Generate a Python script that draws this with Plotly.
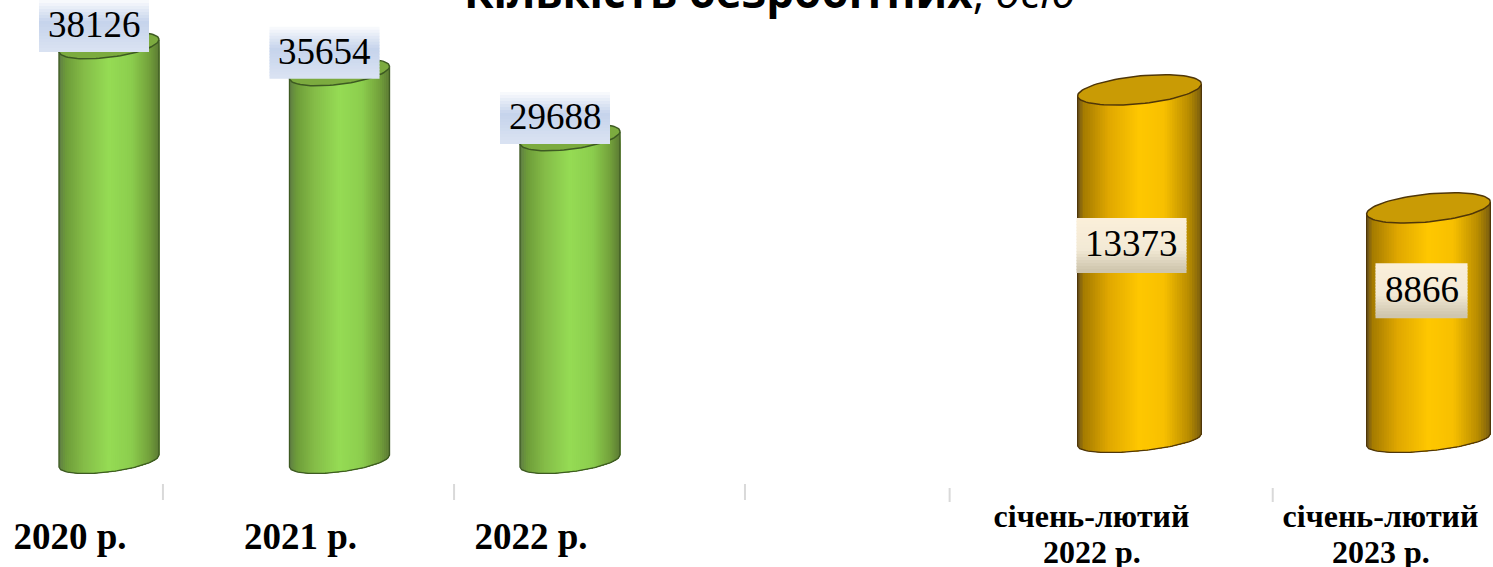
import numpy as np
import plotly.graph_objects as go

# values
years = ["2020 р.", "2021 р.", "2022 р."]
year_values = [38126, 35654, 29688]
period_names = ["січень-лютий", "січень-лютий"]
period_years = ["2022 р.", "2023 р."]
period_values = [13373, 8866]

W, H = 1493, 567
AXIS_PX = 484  # pixel row where the plot area ends

# colour stops across a cylinder, left edge (-1) to right edge (1)
green_stops = [(-1, "#5f7d45"), (-.85, "#6f9e3a"), (-.5, "#85bd48"), (0, "#96dc55"),
               (.45, "#8cce4e"), (.8, "#74a23c"), (1, "#5c7a34")]
orange_stops = [(-1, "#6b5320"), (-.9, "#a67c00"), (-.5, "#e0a800"), (0, "#ffc800"),
                (.4, "#f8c000"), (.8, "#b88c00"), (1, "#7a5e10")]
blue_band = [(0, "#fbfcfe"), (.45, "#c6d4ec"), (1, "#d9e2f2")]
cream_band = [(0, "#fcf0da"), (.6, "#f3ead6"), (1, "#cfc6ae")]


def hex_rgb(c):
    return np.array([int(c[i:i + 2], 16) for i in (1, 3, 5)], dtype=float)


def mix(stops, t):
    pos = [s[0] for s in stops]
    rgb = [np.interp(t, pos, [hex_rgb(s[1])[k] for s in stops]) for k in range(3)]
    return "rgb(%d,%d,%d)" % tuple(rgb)


fig = go.Figure()


def cylinder(xa, ya, x, value, half, px_per_unit, stops, edge, cap):
    tilt = 6 / px_per_unit
    b_top = 14 / px_per_unit if stops is orange_stops else 12 / px_per_unit
    b_bot = 11 / px_per_unit
    base = 0
    common = dict(xaxis=xa, yaxis=ya, mode="lines", hoverinfo="skip", showlegend=False)
    # nested polygons painted left to right give the shading without seams
    for u0 in np.linspace(-1, 0.97, 50):
        u = np.linspace(u0, 1, 40)
        xs = x + half * u
        top = value + tilt * u
        bottom = base + tilt * u - b_bot * np.sqrt(1 - u ** 2)
        fig.add_trace(go.Scatter(
            x=np.r_[xs, xs[::-1]], y=np.r_[top, bottom[::-1]],
            fill="toself", fillcolor=mix(stops, u0 + 0.02), line=dict(width=0), **common))
    # outline of sides and bottom
    u = np.linspace(-1, 1, 60)
    xs = x + half * u
    low = base + tilt * u - b_bot * np.sqrt(1 - u ** 2)
    fig.add_trace(go.Scatter(
        x=np.r_[x - half, xs, x + half], y=np.r_[value - tilt, low, value + tilt],
        line=dict(color=edge, width=1.3), **{k: v for k, v in common.items() if k != "mode"}))
    # top ellipse
    t = np.linspace(0, 2 * np.pi, 90)
    fig.add_trace(go.Scatter(
        x=x + half * np.cos(t), y=value + tilt * np.cos(t) + b_top * np.sin(t),
        fill="toself", fillcolor=cap, line=dict(color=edge, width=1.5), **common))


def value_label(xa, ya, x, y, text, dx, dy, w, h, band):
    # pixel-sized gradient box anchored on the data point
    step = 3
    for top in range(0, h, step):
        fig.add_shape(type="rect", xref=xa, yref=ya, xsizemode="pixel", ysizemode="pixel",
                      xanchor=x, yanchor=y, x0=dx - w / 2, x1=dx + w / 2,
                      y0=dy + h / 2 - top, y1=dy + h / 2 - top - step - 1,
                      fillcolor=mix(band, (top + step / 2) / h), line_width=0, layer="above")
    fig.add_annotation(xref=xa, yref=ya, x=x, y=y, xshift=dx, yshift=dy, text=text, showarrow=False,
                       font=dict(family="Liberation Serif", size=37, color="#000000"))


LEFT_SCALE = 0.0109
RIGHT_SCALE = 0.02618

for i, v in enumerate(year_values):
    cylinder("x", "y", i, v, 0.217, LEFT_SCALE, green_stops, "#3d5a22", "#7cab3f")
for i, v in enumerate(period_values):
    cylinder("x2", "y2", i, v, 0.214, RIGHT_SCALE, orange_stops, "#4f3608", "#c99b05")

for i, v in enumerate(year_values):
    value_label("x", "y", i, v, str(v), -15, 21, 110, 49, blue_band)
label_frac = [0.56, 0.65]  # height of the orange labels relative to the bar
for i, v in enumerate(period_values):
    value_label("x2", "y2", i, v * label_frac[i], str(v), -8 if i == 0 else -7, 0, 110 if i == 0 else 92, 52, cream_band)

# short separators under the axes
for xa, vals, top, bottom in [("x", [0.234, 1.497, 2.759], 484, 500), ("x2", [-0.657, 0.461], 488, 502)]:
    for t in vals:
        fig.add_shape(type="line", xref=xa, yref="paper", x0=t, x1=t,
                      y0=1 - top / H, y1=1 - bottom / H, line=dict(color="#d9d9d9", width=2))

# second line of the right-hand labels sits closer than a <br> would
for i, name in enumerate(period_years):
    fig.add_annotation(xref="x2", yref="paper", x=i - 0.166, y=1 - 552 / H, yanchor="middle",
                       text=name, showarrow=False,
                       font=dict(family="Liberation Serif", size=32, weight=700, color="#000000"))

fig.add_annotation(xref="paper", yref="paper", x=770 / W, y=1 - 10 / H, xanchor="center", yanchor="bottom",
                   yshift=-13, showarrow=False,
                   text="<b>Кількість безробітних</b>, <i>осіб</i>",
                   font=dict(family="Open Sans", size=44, color="#000000"))

SPLIT = 800 / W
fig.update_layout(
    width=W, height=H, margin=dict(l=0, r=0, t=0, b=0),
    paper_bgcolor="white", plot_bgcolor="white", showlegend=False,
    xaxis=dict(domain=[0, SPLIT], range=[-109 / 230.5, (800 - 109) / 230.5], showgrid=False, zeroline=False,
               showline=False, ticks="", automargin=False, tickvals=[i - 0.169 for i in range(3)], ticktext=years,
               ticklabelstandoff=27, tickfont=dict(family="Liberation Serif", size=37, weight=700, color="#000000")),
    yaxis=dict(domain=[1 - AXIS_PX / H, 1], range=[-23 / LEFT_SCALE, 461 / LEFT_SCALE], visible=False, automargin=False),
    xaxis2=dict(domain=[SPLIT, 1], anchor="y2", range=[(800 - 1139.5) / 289, (1493 - 1139.5) / 289],
                showgrid=False, zeroline=False, showline=False, ticks="", automargin=False,
                tickvals=[i - 0.166 for i in range(2)], ticktext=period_names, ticklabelstandoff=10,
                tickfont=dict(family="Liberation Serif", size=32, weight=700, color="#000000")),
    yaxis2=dict(domain=[1 - AXIS_PX / H, 1], anchor="x2", range=[-44 / RIGHT_SCALE, 440 / RIGHT_SCALE], visible=False, automargin=False),
)

fig.write_html("out.html", post_script="document.body.style.margin='0';", config=dict(displayModeBar=False))
